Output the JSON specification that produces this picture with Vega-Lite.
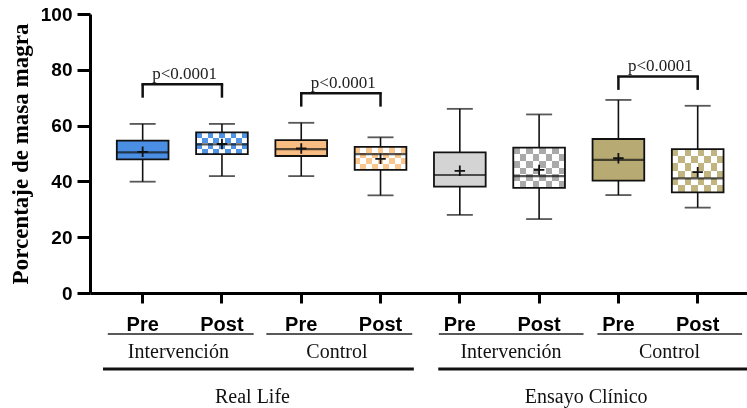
{
  "$schema": "https://vega.github.io/schema/vega-lite/v6.json",
  "width": 657,
  "height": 279,
  "autosize": "none",
  "padding": {"left": 90, "top": 14, "right": 0, "bottom": 115},
  "background": "white",
  "config": {
    "view": {"stroke": null},
    "font": "Liberation Serif",
    "axis": {"grid": false, "domainColor": "black", "tickColor": "black", "labelColor": "black", "titleColor": "black", "domainWidth": 3, "tickWidth": 3},
    "axisX": {"labelFont": "Liberation Sans", "labelFontWeight": "bold", "labelFontSize": 20, "labelAngle": 0, "tickSize": 10, "labelPadding": 11},
    "axisY": {"labelFont": "Liberation Sans", "labelFontWeight": "bold", "labelFontSize": 19, "tickSize": 13, "labelPadding": 5, "titleFont": "Liberation Serif", "titleFontWeight": "bold", "titleFontSize": 23, "titlePadding": 8}
  },
  "datasets": {
    "boxes": [
      {"box": "RL-Int-Pre", "study": "Real Life", "time": "Pre", "min": 39.9, "q1": 47.9, "median": 50.4, "q3": 54.6, "max": 60.6, "mean": 50.6},
      {"box": "RL-Int-Post", "study": "Real Life", "time": "Post", "min": 41.9, "q1": 49.8, "median": 53.3, "q3": 57.6, "max": 60.6, "mean": 53.4},
      {"box": "RL-Ctl-Pre", "study": "Real Life", "time": "Pre", "min": 41.9, "q1": 49.1, "median": 51.6, "q3": 54.8, "max": 61.0, "mean": 51.8},
      {"box": "RL-Ctl-Post", "study": "Real Life", "time": "Post", "min": 35.0, "q1": 44.1, "median": 49.8, "q3": 52.4, "max": 55.8, "mean": 48.1},
      {"box": "EC-Int-Pre", "study": "Ensayo Clínico", "time": "Pre", "min": 28.0, "q1": 38.1, "median": 42.3, "q3": 50.4, "max": 66.0, "mean": 43.8},
      {"box": "EC-Int-Post", "study": "Ensayo Clínico", "time": "Post", "min": 26.5, "q1": 37.7, "median": 41.9, "q3": 52.1, "max": 64.0, "mean": 44.1},
      {"box": "EC-Ctl-Pre", "study": "Ensayo Clínico", "time": "Pre", "min": 35.1, "q1": 40.3, "median": 47.7, "q3": 55.2, "max": 69.2, "mean": 48.3},
      {"box": "EC-Ctl-Post", "study": "Ensayo Clínico", "time": "Post", "min": 30.6, "q1": 36.1, "median": 41.1, "q3": 51.6, "max": 67.1, "mean": 43.3}
    ],
    "brackets": [
      {"from": "RL-Int-Pre", "to": "RL-Int-Post", "top": 74.8, "leg": 70.0, "label": "p<0.0001"},
      {"from": "RL-Ctl-Pre", "to": "RL-Ctl-Post", "top": 71.6, "leg": 66.8, "label": "p<0.0001"},
      {"from": "EC-Ctl-Pre", "to": "EC-Ctl-Post", "top": 77.6, "leg": 72.8, "label": "p<0.0001"}
    ],
    "groups": [
      {"study": "Real Life", "label": "Intervención", "pre": "RL-Int-Pre", "post": "RL-Int-Post"},
      {"study": "Real Life", "label": "Control", "pre": "RL-Ctl-Pre", "post": "RL-Ctl-Post"},
      {"study": "Ensayo Clínico", "label": "Intervención", "pre": "EC-Int-Pre", "post": "EC-Int-Post"},
      {"study": "Ensayo Clínico", "label": "Control", "pre": "EC-Ctl-Pre", "post": "EC-Ctl-Post"}
    ],
    "studies": [
      {"study": "Real Life", "first": "RL-Int-Pre", "last": "RL-Ctl-Post", "anchor": "RL-Int-Post"},
      {"study": "Ensayo Clínico", "first": "EC-Int-Pre", "last": "EC-Ctl-Post", "anchor": "EC-Int-Post"}
    ]
  },
  "layer": [
    {
      "data": {"name": "boxes"},
      "mark": {"type": "rule", "color": "#111", "strokeWidth": 1.6},
      "encoding": {
        "x": {
          "field": "box", "type": "nominal",
          "scale": {"type": "band", "domain": ["RL-Int-Pre", "RL-Int-Post", "RL-Ctl-Pre", "RL-Ctl-Post", "EC-Int-Pre", "EC-Int-Post", "EC-Ctl-Pre", "EC-Ctl-Post"], "paddingInner": 0, "paddingOuter": 0.143, "align": 0.574},
          "axis": {"title": null, "labelExpr": "replace(datum.value, /^.*-/, '')"}
        },
        "y": {
          "field": "min", "type": "quantitative",
          "scale": {"domain": [0, 100], "nice": false},
          "axis": {"title": "Porcentaje de masa magra", "values": [0, 20, 40, 60, 80, 100]}
        },
        "y2": {"field": "max"}
      }
    },
    {
      "data": {"name": "boxes"},
      "transform": [{"fold": ["min", "max"], "as": ["end", "value"]}],
      "mark": {"type": "tick", "color": "#111", "size": 26, "thickness": 1.8},
      "encoding": {
        "x": {"field": "box", "type": "nominal"},
        "y": {"field": "value", "type": "quantitative"}
      }
    },
    {
      "data": {"name": "boxes"},
      "transform": [{"filter": "datum.time === 'Pre'"}],
      "mark": {"type": "bar", "width": {"band": 0.652}},
      "encoding": {
        "x": {"field": "box", "type": "nominal"},
        "y": {"field": "q1", "type": "quantitative"},
        "y2": {"field": "q3"},
        "fill": {
          "field": "box", "type": "nominal", "legend": null,
          "scale": {
            "domain": ["RL-Int-Pre", "RL-Int-Post", "RL-Ctl-Pre", "RL-Ctl-Post", "EC-Int-Pre", "EC-Int-Post", "EC-Ctl-Pre", "EC-Ctl-Post"],
            "range": ["#4a8fe3", "#4f93e6", "#f8bd83", "#f9c690", "#d4d4d4", "#a9a9a9", "#b7aa72", "#c0b581"]
          }
        }
      }
    },
    {
      "data": {"name": "boxes"},
      "transform": [{"filter": "datum.time === 'Post' && datum.study === 'Real Life'"}],
      "mark": {
        "type": "bar", "width": {"band": 0.652},
        "fill": {"gradient": "linear", "x1": 0, "y1": 0, "x2": 0, "y2": 1, "stops": [
          {"offset": 0, "color": "black"}, {"offset": 0.25, "color": "black"},
          {"offset": 0.25, "color": "white"}, {"offset": 0.5, "color": "white"},
          {"offset": 0.5, "color": "black"}, {"offset": 0.75, "color": "black"},
          {"offset": 0.75, "color": "white"}, {"offset": 1, "color": "white"}
        ]}
      },
      "encoding": {
        "x": {"field": "box", "type": "nominal"},
        "y": {"field": "q1", "type": "quantitative"},
        "y2": {"field": "q3"}
      }
    },
    {
      "data": {"name": "boxes"},
      "transform": [{"filter": "datum.time === 'Post' && datum.study === 'Real Life'"}],
      "mark": {
        "type": "bar", "width": {"band": 0.652}, "blend": "difference",
        "fill": {"gradient": "linear", "x1": 0, "y1": 0, "x2": 1, "y2": 0, "stops": [
          {"offset": 0, "color": "black"}, {"offset": 0.1111, "color": "black"},
          {"offset": 0.1111, "color": "white"}, {"offset": 0.2222, "color": "white"},
          {"offset": 0.2222, "color": "black"}, {"offset": 0.3333, "color": "black"},
          {"offset": 0.3333, "color": "white"}, {"offset": 0.4444, "color": "white"},
          {"offset": 0.4444, "color": "black"}, {"offset": 0.5556, "color": "black"},
          {"offset": 0.5556, "color": "white"}, {"offset": 0.6667, "color": "white"},
          {"offset": 0.6667, "color": "black"}, {"offset": 0.7778, "color": "black"},
          {"offset": 0.7778, "color": "white"}, {"offset": 0.8889, "color": "white"},
          {"offset": 0.8889, "color": "black"}, {"offset": 1, "color": "black"}
        ]}
      },
      "encoding": {
        "x": {"field": "box", "type": "nominal"},
        "y": {"field": "q1", "type": "quantitative"},
        "y2": {"field": "q3"}
      }
    },
    {
      "data": {"name": "boxes"},
      "transform": [{"filter": "datum.time === 'Post' && datum.study === 'Ensayo Clínico'"}],
      "mark": {
        "type": "bar", "width": {"band": 0.652},
        "fill": {"gradient": "linear", "x1": 0, "y1": 0, "x2": 0, "y2": 1, "stops": [
          {"offset": 0, "color": "black"}, {"offset": 0.1667, "color": "black"},
          {"offset": 0.1667, "color": "white"}, {"offset": 0.3333, "color": "white"},
          {"offset": 0.3333, "color": "black"}, {"offset": 0.5, "color": "black"},
          {"offset": 0.5, "color": "white"}, {"offset": 0.6667, "color": "white"},
          {"offset": 0.6667, "color": "black"}, {"offset": 0.8333, "color": "black"},
          {"offset": 0.8333, "color": "white"}, {"offset": 1, "color": "white"}
        ]}
      },
      "encoding": {
        "x": {"field": "box", "type": "nominal"},
        "y": {"field": "q1", "type": "quantitative"},
        "y2": {"field": "q3"}
      }
    },
    {
      "data": {"name": "boxes"},
      "transform": [{"filter": "datum.time === 'Post' && datum.study === 'Ensayo Clínico'"}],
      "mark": {
        "type": "bar", "width": {"band": 0.652}, "blend": "difference",
        "fill": {"gradient": "linear", "x1": 0, "y1": 0, "x2": 1, "y2": 0, "stops": [
          {"offset": 0, "color": "black"}, {"offset": 0.125, "color": "black"},
          {"offset": 0.125, "color": "white"}, {"offset": 0.25, "color": "white"},
          {"offset": 0.25, "color": "black"}, {"offset": 0.375, "color": "black"},
          {"offset": 0.375, "color": "white"}, {"offset": 0.5, "color": "white"},
          {"offset": 0.5, "color": "black"}, {"offset": 0.625, "color": "black"},
          {"offset": 0.625, "color": "white"}, {"offset": 0.75, "color": "white"},
          {"offset": 0.75, "color": "black"}, {"offset": 0.875, "color": "black"},
          {"offset": 0.875, "color": "white"}, {"offset": 1, "color": "white"}
        ]}
      },
      "encoding": {
        "x": {"field": "box", "type": "nominal"},
        "y": {"field": "q1", "type": "quantitative"},
        "y2": {"field": "q3"}
      }
    },
    {
      "data": {"name": "boxes"},
      "transform": [{"filter": "datum.time === 'Post'"}],
      "mark": {"type": "bar", "width": {"band": 0.652}, "blend": "screen"},
      "encoding": {
        "x": {"field": "box", "type": "nominal"},
        "y": {"field": "q1", "type": "quantitative"},
        "y2": {"field": "q3"},
        "fill": {"field": "box", "type": "nominal", "legend": null}
      }
    },
    {
      "data": {"name": "boxes"},
      "mark": {"type": "bar", "width": {"band": 0.652}, "fill": "transparent", "stroke": "#111", "strokeWidth": 1.8},
      "encoding": {
        "x": {"field": "box", "type": "nominal"},
        "y": {"field": "q1", "type": "quantitative"},
        "y2": {"field": "q3"}
      }
    },
    {
      "data": {"name": "boxes"},
      "mark": {"type": "tick", "color": "#111", "size": 52, "thickness": 2.2},
      "encoding": {
        "x": {"field": "box", "type": "nominal"},
        "y": {"field": "median", "type": "quantitative"}
      }
    },
    {
      "data": {"name": "boxes"},
      "mark": {"type": "point", "shape": "M-1,0H1M0,-1V1", "size": 110, "filled": false, "stroke": "#111", "strokeWidth": 1.8, "opacity": 1},
      "encoding": {
        "x": {"field": "box", "type": "nominal"},
        "y": {"field": "mean", "type": "quantitative"}
      }
    },
    {
      "data": {"name": "brackets"},
      "mark": {"type": "rule", "color": "#111", "strokeWidth": 2.5, "strokeCap": "square"},
      "encoding": {
        "x": {"field": "from", "type": "nominal"},
        "x2": {"field": "to"},
        "y": {"field": "top", "type": "quantitative"}
      }
    },
    {
      "data": {"name": "brackets"},
      "mark": {"type": "rule", "color": "#111", "strokeWidth": 2.5},
      "encoding": {
        "x": {"field": "from", "type": "nominal"},
        "y": {"field": "top", "type": "quantitative"},
        "y2": {"field": "leg"}
      }
    },
    {
      "data": {"name": "brackets"},
      "mark": {"type": "rule", "color": "#111", "strokeWidth": 2.5},
      "encoding": {
        "x": {"field": "to", "type": "nominal"},
        "y": {"field": "top", "type": "quantitative"},
        "y2": {"field": "leg"}
      }
    },
    {
      "data": {"name": "brackets"},
      "mark": {"type": "text", "font": "Liberation Serif", "fontSize": 17, "color": "#222", "baseline": "alphabetic", "dy": -5},
      "encoding": {
        "x": {"field": "from", "type": "nominal", "bandPosition": 1.03},
        "y": {"field": "top", "type": "quantitative"},
        "text": {"field": "label"}
      }
    },
    {
      "data": {"name": "groups"},
      "transform": [{"filter": "datum.study === 'Real Life'"}],
      "mark": {"type": "rule", "color": "#222", "strokeWidth": 1.5},
      "encoding": {
        "x": {"field": "pre", "type": "nominal", "bandPosition": 0.06},
        "x2": {"field": "post", "bandPosition": 0.9},
        "y": {"value": {"expr": "height + 41"}}
      }
    },
    {
      "data": {"name": "groups"},
      "transform": [{"filter": "datum.study === 'Ensayo Clínico'"}],
      "mark": {"type": "rule", "color": "#222", "strokeWidth": 1.5},
      "encoding": {
        "x": {"field": "pre", "type": "nominal", "bandPosition": 0.235},
        "x2": {"field": "post", "bandPosition": 1.06},
        "y": {"value": {"expr": "height + 41"}}
      }
    },
    {
      "data": {"name": "groups"},
      "transform": [{"filter": "datum.study === 'Real Life'"}],
      "mark": {"type": "text", "font": "Liberation Serif", "fontSize": 20, "color": "#111", "baseline": "alphabetic"},
      "encoding": {
        "x": {"field": "pre", "type": "nominal", "bandPosition": 0.95},
        "y": {"value": {"expr": "height + 65"}},
        "text": {"field": "label"}
      }
    },
    {
      "data": {"name": "groups"},
      "transform": [{"filter": "datum.study === 'Ensayo Clínico'"}],
      "mark": {"type": "text", "font": "Liberation Serif", "fontSize": 20, "color": "#111", "baseline": "alphabetic"},
      "encoding": {
        "x": {"field": "pre", "type": "nominal", "bandPosition": 1.145},
        "y": {"value": {"expr": "height + 65"}},
        "text": {"field": "label"}
      }
    },
    {
      "data": {"name": "studies"},
      "transform": [{"filter": "datum.study === 'Real Life'"}],
      "mark": {"type": "rule", "color": "#111", "strokeWidth": 3},
      "encoding": {
        "x": {"field": "first", "type": "nominal", "bandPosition": 0},
        "x2": {"field": "last", "bandPosition": 0.92},
        "y": {"value": {"expr": "height + 76"}}
      }
    },
    {
      "data": {"name": "studies"},
      "transform": [{"filter": "datum.study === 'Ensayo Clínico'"}],
      "mark": {"type": "rule", "color": "#111", "strokeWidth": 3},
      "encoding": {
        "x": {"field": "first", "type": "nominal", "bandPosition": 0.228},
        "x2": {"field": "last", "bandPosition": 1.14},
        "y": {"value": {"expr": "height + 76"}}
      }
    },
    {
      "data": {"name": "studies"},
      "transform": [{"filter": "datum.study === 'Real Life'"}],
      "mark": {"type": "text", "font": "Liberation Serif", "fontSize": 20, "color": "#111", "baseline": "alphabetic"},
      "encoding": {
        "x": {"field": "anchor", "type": "nominal", "bandPosition": 0.885},
        "y": {"value": {"expr": "height + 110"}},
        "text": {"field": "study"}
      }
    },
    {
      "data": {"name": "studies"},
      "transform": [{"filter": "datum.study === 'Ensayo Clínico'"}],
      "mark": {"type": "text", "font": "Liberation Serif", "fontSize": 20, "color": "#111", "baseline": "alphabetic"},
      "encoding": {
        "x": {"field": "anchor", "type": "nominal", "bandPosition": 1.094},
        "y": {"value": {"expr": "height + 110"}},
        "text": {"field": "study"}
      }
    }
  ]
}
